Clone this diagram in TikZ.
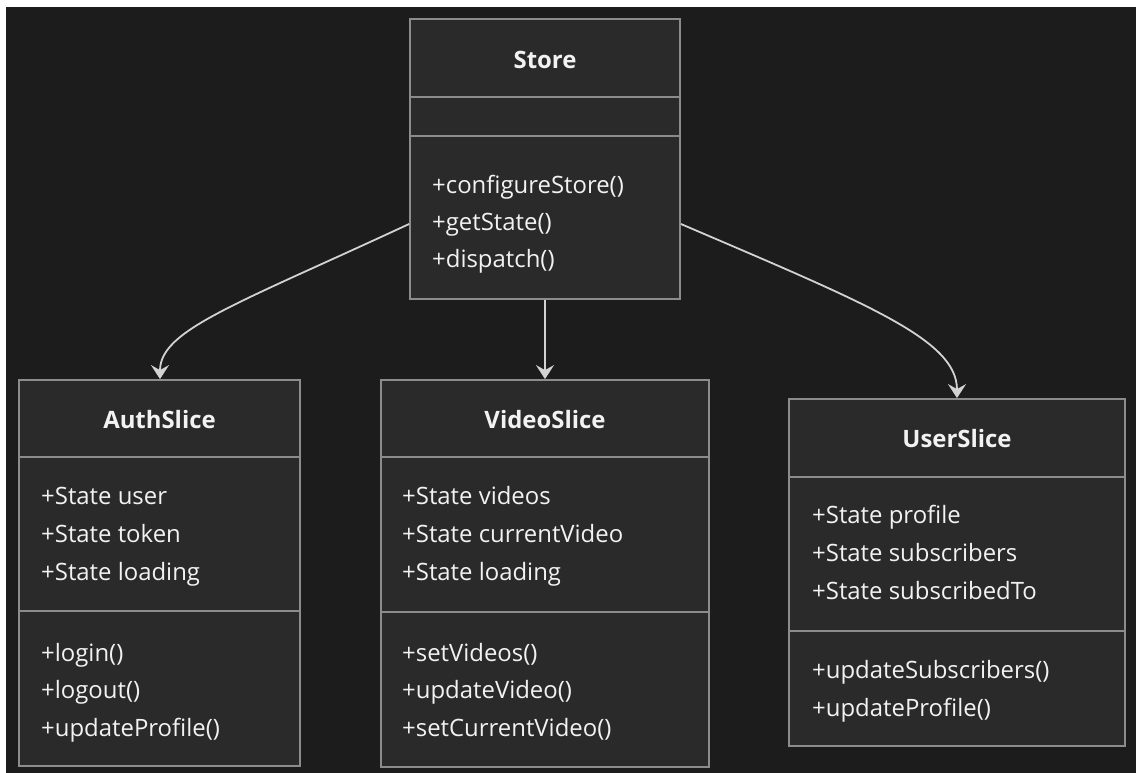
\documentclass[tikz,border=0pt]{standalone}
\usepackage{fontspec}
\setmainfont{Open Sans}
\usetikzlibrary{arrows.meta}
\definecolor{bgc}{HTML}{1C1C1C}
\definecolor{boxfill}{HTML}{2A2A2A}
\definecolor{boxline}{HTML}{8C8C8C}
\definecolor{arrowc}{HTML}{D2D2D2}
\definecolor{txt}{HTML}{F2F2F2}
\tikzset{
  classbox/.style={draw=boxline, fill=boxfill, line width=1.8bp, inner sep=0pt},
  divider/.style={draw=boxline, line width=1.8bp},
  title/.style={text=txt, font=\fontsize{24}{28}\selectfont\bfseries, inner sep=0pt},
  member/.style={text=txt, font=\fontsize{24}{28}\selectfont, anchor=west, inner sep=0pt, text height=17bp, text depth=5bp},
  link/.style={draw=arrowc, line width=1.8bp, -{Stealth[length=14bp, width=18bp, inset=5bp]}}
}
\begin{document}
\begin{tikzpicture}[x=1bp,y=-1bp]
\useasboundingbox (0,0) rectangle (1136,773);
\fill[bgc] (6,7) rectangle (1136,773);

% Store
\node[classbox, minimum width=270bp, minimum height=280bp] (store) at (545,159) {};
\draw[divider] (store.west |- 0,97) -- (store.east |- 0,97);
\draw[divider] (store.west |- 0,136) -- (store.east |- 0,136);
\node[title] (storeT) at (545,60) {Store};
\node[member] (s1) at (432,187) {+configureStore()};
\node[member] (s2) at (432,224) {+getState()};
\node[member] (s3) at (432,261) {+dispatch()};

% AuthSlice
\node[classbox, minimum width=281bp, minimum height=386bp] (auth) at (159.5,573) {};
\draw[divider] (auth.west |- 0,457) -- (auth.east |- 0,457);
\draw[divider] (auth.west |- 0,611) -- (auth.east |- 0,611);
\node[title] (authT) at (159.5,420) {AuthSlice};
\node[member] (a1) at (41,498) {+State user};
\node[member] (a2) at (41,536) {+State token};
\node[member] (a3) at (41,574) {+State loading};
\node[member] (a4) at (41,655) {+login()};
\node[member] (a5) at (41,692) {+logout()};
\node[member] (a6) at (41,730) {+updateProfile()};

% VideoSlice
\node[classbox, minimum width=328bp, minimum height=387bp] (video) at (545,573.5) {};
\draw[divider] (video.west |- 0,457) -- (video.east |- 0,457);
\draw[divider] (video.west |- 0,612) -- (video.east |- 0,612);
\node[title] (videoT) at (545,420) {VideoSlice};
\node[member] (v1) at (402,498) {+State videos};
\node[member] (v2) at (402,536) {+State currentVideo};
\node[member] (v3) at (402,574) {+State loading};
\node[member] (v4) at (402,655) {+setVideos()};
\node[member] (v5) at (402,692) {+updateVideo()};
\node[member] (v6) at (402,730) {+setCurrentVideo()};

% UserSlice
\node[classbox, minimum width=336bp, minimum height=347bp] (user) at (957,572.5) {};
\draw[divider] (user.west |- 0,477) -- (user.east |- 0,477);
\draw[divider] (user.west |- 0,631) -- (user.east |- 0,631);
\node[title] (userT) at (957,439) {UserSlice};
\node[member] (u1) at (812,517) {+State profile};
\node[member] (u2) at (812,555) {+State subscribers};
\node[member] (u3) at (812,593) {+State subscribedTo};
\node[member] (u4) at (812,672) {+updateSubscribers()};
\node[member] (u5) at (812,710) {+updateProfile()};

% connectors
\coordinate (sl) at (store.west |- 0,224);
\coordinate (sr) at (store.east |- 0,224);
\draw[link] (sl) .. controls (235,305) and (160,330) .. (auth.north -| 160,0);
\draw[link] (store.south) -- (video.north);
\draw[link] (sr) .. controls (870,305) and (957,340) .. (user.north);
\end{tikzpicture}
\end{document}
